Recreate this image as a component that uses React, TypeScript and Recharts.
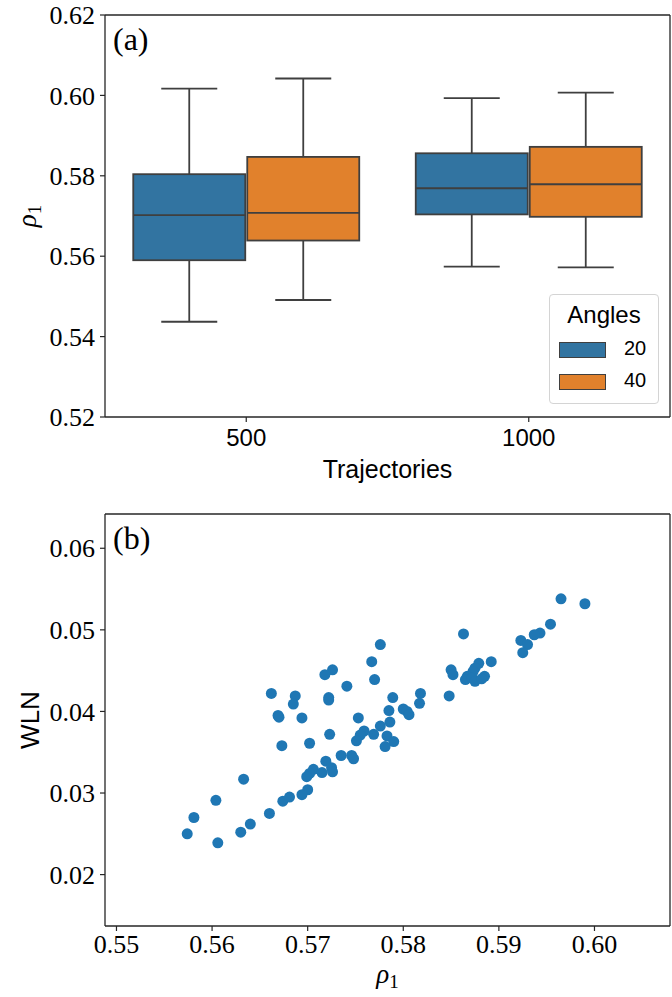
import React from "react";
import { Bar, BarChart, CartesianGrid, Scatter, ScatterChart, XAxis, YAxis } from "recharts";

// panel (a): box statistics per trajectory count, one set per angle count
const trajectories = ["500", "1000"];
const angleLabels = ["20", "40"];
const lowWhisker20 = [0.5437, 0.5574];
const q1Angles20 = [0.559, 0.5704];
const median20 = [0.5702, 0.5769];
const q3Angles20 = [0.5804, 0.5856];
const highWhisker20 = [0.6017, 0.5993];
const lowWhisker40 = [0.5491, 0.5572];
const q1Angles40 = [0.5639, 0.5698];
const median40 = [0.5708, 0.5779];
const q3Angles40 = [0.5847, 0.5872];
const highWhisker40 = [0.6042, 0.6007];
const rhoTicksA = [0.52, 0.54, 0.56, 0.58, 0.6, 0.62];

// panel (b): scatter of rho_1 against WLN
const scatterRho = [
  0.5574, 0.5581, 0.5604, 0.5606, 0.5633, 0.563, 0.564, 0.566, 0.5674, 0.5681,
  0.5673, 0.5662, 0.5669, 0.567, 0.5687, 0.5685, 0.5694, 0.5776, 0.5767, 0.577,
  0.5726, 0.5718, 0.5741, 0.5722, 0.5722, 0.5723, 0.5702, 0.5753, 0.5789, 0.5785,
  0.5776, 0.5786, 0.5769, 0.5759, 0.5755, 0.5751, 0.5783, 0.579, 0.5781, 0.58,
  0.5804, 0.5806, 0.5735, 0.5746, 0.5748, 0.5719, 0.5725, 0.5726, 0.5706, 0.5702,
  0.5699, 0.5715, 0.57, 0.5694, 0.5863, 0.5923, 0.593, 0.5925, 0.585, 0.5852,
  0.5879, 0.5875, 0.5873, 0.5892, 0.5867, 0.5865, 0.5872, 0.5875, 0.5885, 0.5882,
  0.5818, 0.5817, 0.5848, 0.5965, 0.599, 0.5954, 0.5943, 0.5937,
];
const scatterWln = [
  0.025, 0.027, 0.0291, 0.0239, 0.0317, 0.0252, 0.0262, 0.0275, 0.029, 0.0295,
  0.0358, 0.0422, 0.0395, 0.0393, 0.0419, 0.0409, 0.0392, 0.0482, 0.0461, 0.0439,
  0.0451, 0.0445, 0.0431, 0.0417, 0.0414, 0.0372, 0.0361, 0.0392, 0.0417, 0.0401,
  0.0382, 0.0387, 0.0372, 0.0376, 0.0371, 0.0364, 0.037, 0.0363, 0.0357, 0.0403,
  0.04, 0.0396, 0.0346, 0.0346, 0.0342, 0.0339, 0.0331, 0.0326, 0.0329, 0.0324,
  0.032, 0.0325, 0.0304, 0.0298, 0.0495, 0.0487, 0.0482, 0.0472, 0.0451, 0.0445,
  0.0459, 0.0453, 0.0449, 0.0461, 0.0443, 0.0439, 0.0441, 0.0437, 0.0443, 0.044,
  0.0422, 0.041, 0.0419, 0.0538, 0.0532, 0.0507, 0.0496, 0.0494,
];
const rhoTicksB = [0.55, 0.56, 0.57, 0.58, 0.59, 0.6];
const wlnTicks = [0.02, 0.03, 0.04, 0.05, 0.06];

const boxRows = trajectories.map((t, i) => ({
  traj: t,
  a20: [lowWhisker20[i], highWhisker20[i]],
  a40: [lowWhisker40[i], highWhisker40[i]],
  s20: { q1: q1Angles20[i], median: median20[i], q3: q3Angles20[i] },
  s40: { q1: q1Angles40[i], median: median40[i], q3: q3Angles40[i] },
}));

const scatterPoints = scatterRho.map((r, i) => ({ rho: r, wln: scatterWln[i] }));

const BLUE = "#3274a1";
const ORANGE = "#e1812c";
const LINE = "#3f3f3f";
const AXIS = "#262626";
const SERIF = "'Liberation Serif', 'DejaVu Serif', serif";
const SANS = "'Liberation Sans', 'DejaVu Sans', sans-serif";

const fmt2 = (v: number) => v.toFixed(2);

// the bar spans the whisker range; the box and median are placed with the same scale
const BoxShape = (props: any) => {
  const { x, y, width, height, payload, fill, rangeKey, statsKey } = props;
  const [lo, hi] = payload[rangeKey];
  const st = payload[statsKey];
  const k = height / (hi - lo);
  const yOf = (v: number) => y + (hi - v) * k;
  const cx = x + width / 2;
  const cap = width / 4;
  return (
    <g>
      <line x1={cx} x2={cx} y1={yOf(hi)} y2={yOf(st.q3)} stroke={LINE} strokeWidth={1.8} />
      <line x1={cx} x2={cx} y1={yOf(st.q1)} y2={yOf(lo)} stroke={LINE} strokeWidth={1.8} />
      <line x1={cx - cap} x2={cx + cap} y1={yOf(hi)} y2={yOf(hi)} stroke={LINE} strokeWidth={1.8} />
      <line x1={cx - cap} x2={cx + cap} y1={yOf(lo)} y2={yOf(lo)} stroke={LINE} strokeWidth={1.8} />
      <rect
        x={x}
        y={yOf(st.q3)}
        width={width}
        height={yOf(st.q1) - yOf(st.q3)}
        fill={fill}
        stroke={LINE}
        strokeWidth={1.8}
      />
      <line x1={x} x2={x + width} y1={yOf(st.median)} y2={yOf(st.median)} stroke={LINE} strokeWidth={1.8} />
    </g>
  );
};

// y label (rotated) plus the panel tag in the top-left corner of the plot
const RhoYLabel = ({ viewBox, tag }: any) => {
  const cx = viewBox.x + 36;
  const cy = viewBox.y + viewBox.height / 2;
  return (
    <g>
      <text
        x={cx}
        y={cy}
        transform={`rotate(-90, ${cx}, ${cy})`}
        textAnchor="middle"
        fontFamily={SERIF}
        fontSize={27}
        fill="#000"
      >
        <tspan fontStyle="italic">ρ</tspan>
        <tspan dy={5} fontSize={19}>
          1
        </tspan>
      </text>
      <text x={viewBox.x + viewBox.width + 8} y={viewBox.y + 35} fontFamily={SERIF} fontSize={32} fill="#000">
        {tag}
      </text>
    </g>
  );
};

const SansYLabel = ({ viewBox, text, tag }: any) => {
  const cx = viewBox.x + 39;
  const cy = viewBox.y + viewBox.height / 2;
  return (
    <g>
      <text
        x={cx}
        y={cy}
        transform={`rotate(-90, ${cx}, ${cy})`}
        textAnchor="middle"
        fontFamily={SANS}
        fontSize={26}
        fill="#000"
      >
        {text}
      </text>
      <text x={viewBox.x + viewBox.width + 8} y={viewBox.y + 35} fontFamily={SERIF} fontSize={32} fill="#000">
        {tag}
      </text>
    </g>
  );
};

const RhoXLabel = ({ viewBox }: any) => (
  <text
    x={viewBox.x + viewBox.width / 2}
    y={viewBox.y + 57}
    textAnchor="middle"
    fontFamily={SERIF}
    fontSize={27}
    fill="#000"
  >
    <tspan fontStyle="italic">ρ</tspan>
    <tspan dy={5} fontSize={19}>
      1
    </tspan>
  </text>
);

const SansXLabel = ({ viewBox, text }: any) => (
  <text
    x={viewBox.x + viewBox.width / 2}
    y={viewBox.y + 61}
    textAnchor="middle"
    fontFamily={SANS}
    fontSize={25}
    fill="#000"
  >
    {text}
  </text>
);

// top and right spines of the axes box
const topEdge = ({ offset }: any) => [offset.top];
const rightEdge = ({ offset }: any) => [offset.left + offset.width];

const axisLine = { stroke: AXIS, strokeWidth: 1.3 };
const tickLine = { stroke: AXIS, strokeWidth: 1.2 };
const serifTick = { fontFamily: SERIF, fontSize: 26, fill: "#000" };
const sansTick = { fontFamily: SANS, fontSize: 24, fill: "#000" };

const AnglesLegend = () => (
  <div
    style={{
      position: "absolute",
      left: 549,
      top: 294,
      width: 108,
      height: 108,
      border: "1px solid #d4d4d4",
      borderRadius: 4,
      background: "rgba(255,255,255,0.85)",
      fontFamily: SANS,
    }}
  >
    <div style={{ position: "absolute", left: 0, width: 108, top: 6, textAlign: "center", fontSize: 24 }}>
      Angles
    </div>
    {angleLabels.map((a, i) => (
      <div key={a}>
        <div
          style={{
            position: "absolute",
            left: 9,
            top: 47 + i * 32,
            width: 47,
            height: 16,
            background: i === 0 ? BLUE : ORANGE,
            border: `1px solid ${LINE}`,
            boxSizing: "border-box",
          }}
        />
        <div style={{ position: "absolute", left: 74, top: 42 + i * 32, fontSize: 20 }}>{a}</div>
      </div>
    ))}
  </div>
);

export default function App() {
  return (
    <div style={{ position: "absolute", left: 0, top: 0, width: 672, height: 997, background: "#fff" }}>
      <div style={{ position: "absolute", left: 0, top: 0 }}>
        <BarChart
          width={672}
          height={500}
          data={boxRows}
          margin={{ top: 15, right: 2, left: 0, bottom: 0 }}
          barCategoryGap="10%"
          barGap={2}
        >
          <CartesianGrid
            stroke={AXIS}
            strokeWidth={1.3}
            horizontalCoordinatesGenerator={topEdge}
            verticalCoordinatesGenerator={rightEdge}
          />
          <XAxis
            dataKey="traj"
            height={83}
            tick={sansTick}
            tickSize={5}
            tickMargin={7}
            axisLine={axisLine}
            tickLine={tickLine}
            label={<SansXLabel text="Trajectories" />}
          />
          <YAxis
            type="number"
            width={105}
            domain={[0.52, 0.62]}
            ticks={rhoTicksA}
            tickFormatter={fmt2}
            tick={serifTick}
            tickSize={5}
            tickMargin={5}
            axisLine={axisLine}
            tickLine={tickLine}
            label={<RhoYLabel tag="(a)" />}
          />
          <Bar
            dataKey="a20"
            name="20"
            fill={BLUE}
            isAnimationActive={false}
            shape={(p: any) => <BoxShape {...p} rangeKey="a20" statsKey="s20" />}
          />
          <Bar
            dataKey="a40"
            name="40"
            fill={ORANGE}
            isAnimationActive={false}
            shape={(p: any) => <BoxShape {...p} rangeKey="a40" statsKey="s40" />}
          />
        </BarChart>
        <AnglesLegend />
      </div>
      <div style={{ position: "absolute", left: 0, top: 500 }}>
        <ScatterChart width={672} height={497} margin={{ top: 14, right: 2, left: 0, bottom: 0 }}>
          <CartesianGrid
            stroke={AXIS}
            strokeWidth={1.3}
            horizontalCoordinatesGenerator={topEdge}
            verticalCoordinatesGenerator={rightEdge}
          />
          <XAxis
            type="number"
            dataKey="rho"
            height={71}
            domain={[0.5488, 0.6079]}
            ticks={rhoTicksB}
            tickFormatter={fmt2}
            tick={serifTick}
            tickSize={5}
            tickMargin={4}
            axisLine={axisLine}
            tickLine={tickLine}
            label={<RhoXLabel />}
          />
          <YAxis
            type="number"
            dataKey="wln"
            width={105}
            domain={[0.0137, 0.0642]}
            ticks={wlnTicks}
            tickFormatter={fmt2}
            tick={serifTick}
            tickSize={5}
            tickMargin={5}
            axisLine={axisLine}
            tickLine={tickLine}
            label={<SansYLabel text="WLN" tag="(b)" />}
          />
          <Scatter
            data={scatterPoints}
            fill="#1f77b4"
            isAnimationActive={false}
            shape={(p: any) => <circle cx={p.cx} cy={p.cy} r={5.5} fill="#1f77b4" />}
          />
        </ScatterChart>
      </div>
    </div>
  );
}
